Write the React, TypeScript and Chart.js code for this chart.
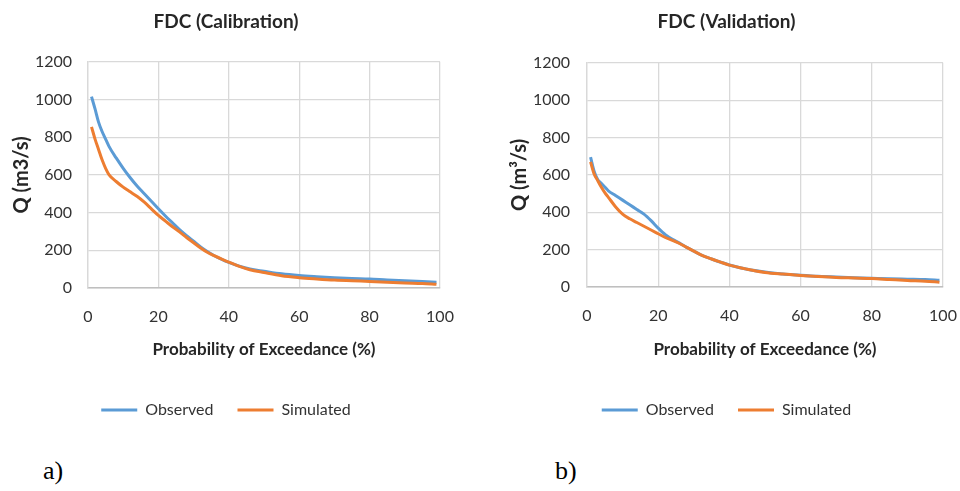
import React, { useEffect, useRef } from "react";
import { Chart, registerables } from "chart.js";

Chart.register(...registerables);

// ---- Data ----
const calProbability = [1, 2, 3, 4, 5, 6, 8, 10, 12, 14, 16, 18, 20, 22, 24, 26, 28, 30, 32, 34, 36, 38, 40, 43, 46, 50, 55, 60, 65, 70, 75, 80, 85, 90, 95, 99];
const calObserved = [1015, 950, 880, 830, 790, 750, 690, 635, 585, 540, 500, 460, 420, 382, 346, 310, 278, 248, 218, 192, 170, 152, 136, 116, 101, 89, 75, 66, 60, 55, 51, 48, 43, 39, 35, 31];
const calSimulated = [855, 790, 735, 680, 635, 600, 565, 535, 510, 485, 455, 420, 385, 355, 325, 298, 268, 240, 212, 188, 170, 153, 137, 115, 97, 82, 65, 55, 48, 42, 38, 35, 31, 27, 24, 20];

const valProbability = [1, 2, 3, 4, 5, 6, 8, 10, 12, 14, 16, 18, 20, 22, 24, 26, 28, 30, 32, 35, 38, 40, 45, 50, 55, 60, 65, 70, 75, 80, 85, 90, 95, 99];
const valObserved = [695, 620, 575, 555, 535, 515, 490, 465, 440, 415, 390, 355, 315, 280, 255, 235, 212, 192, 172, 150, 130, 118, 95, 80, 70, 63, 57, 53, 50, 47, 44, 42, 40, 36];
const valSimulated = [670, 605, 570, 535, 505, 480, 430, 390, 365, 345, 325, 305, 285, 265, 250, 233, 212, 192, 172, 150, 130, 117, 95, 78, 69, 62, 56, 51, 48, 45, 40, 35, 31, 26];

const seriesNames = ["Observed", "Simulated"];
const seriesColors = ["#5B9BD5", "#ED7D31"];
const xAxisTitle = "Probability of Exceedance (%)";
const xMin = 0, xMax = 100, xStep = 20;
const yMin = 0, yMax = 1200, yStep = 200;

const FONT = "Lato";
const TEXT = "#262626";
const TICK = "#333333";

type ChartProps = {
  left: number;
  width: number;
  height: number;
  title: string;
  yTitle: string;
  prob: number[];
  obs: number[];
  sim: number[];
  padLeft: number;
  padRight: number;
  yAxisWidth: number;
  xAxisHeight: number;
  yTickPad: number;
  titleTop: number;
  titleBottom: number;
};

function FdcChart(p: ChartProps) {
  const ref = useRef<HTMLCanvasElement | null>(null);
  useEffect(() => {
    let chart: Chart | null = null;
    let cancelled = false;
    const make = () => {
      if (cancelled || !ref.current) return;
      const toPts = (vals: number[]) => p.prob.map((x, i) => ({ x, y: vals[i] }));
      chart = new Chart(ref.current, {
        type: "line",
        data: {
          datasets: [
            {
              label: seriesNames[0],
              data: toPts(p.obs),
              borderColor: seriesColors[0],
              backgroundColor: seriesColors[0],
              borderWidth: 3,
              pointRadius: 0,
              cubicInterpolationMode: "monotone",
              order: 1,
            },
            {
              label: seriesNames[1],
              data: toPts(p.sim),
              borderColor: seriesColors[1],
              backgroundColor: seriesColors[1],
              borderWidth: 3,
              pointRadius: 0,
              cubicInterpolationMode: "monotone",
              order: 0,
            },
          ],
        },
        options: {
          animation: false,
          responsive: false,
          devicePixelRatio: 1,
          layout: { padding: { left: p.padLeft, right: p.padRight, top: 0, bottom: 0 } },
          plugins: {
            title: {
              display: true,
              text: p.title,
              color: TEXT,
              font: { family: FONT, size: 19, weight: "bold" },
              padding: { top: p.titleTop, bottom: p.titleBottom },
            },
            legend: {
              position: "bottom",
              labels: {
                usePointStyle: true,
                pointStyle: "line",
                pointStyleWidth: 36,
                padding: 24,
                color: TICK,
                font: { family: FONT, size: 16 },
                sort: (a: any, b: any) => a.datasetIndex - b.datasetIndex,
              },
            },
            tooltip: { enabled: false },
          },
          scales: {
            x: {
              type: "linear",
              min: xMin,
              max: xMax,
              ticks: {
                stepSize: xStep,
                padding: 19,
                color: TICK,
                font: { family: FONT, size: 16 },
                callback: (v: any) => String(v),
              },
              grid: { color: "#D9D9D9", lineWidth: 1.3, drawTicks: false },
              border: { color: "#BFBFBF", width: 1.5 },
              title: {
                display: true,
                text: xAxisTitle,
                color: TEXT,
                font: { family: FONT, size: 17, weight: "bold" },
                padding: { top: 0, bottom: 18 },
              },
              afterFit: (s: any) => {
                s.height = p.xAxisHeight;
                s.paddingLeft = 0;
                s.paddingRight = 0;
              },
            },
            y: {
              type: "linear",
              min: yMin,
              max: yMax,
              ticks: {
                stepSize: yStep,
                padding: p.yTickPad,
                color: TICK,
                font: { family: FONT, size: 16 },
                callback: (v: any) => String(v),
              },
              grid: { color: "#D9D9D9", lineWidth: 1.3, drawTicks: false },
              border: { color: "#D9D9D9", width: 1.3 },
              title: {
                display: true,
                text: p.yTitle,
                color: TEXT,
                font: { family: FONT, size: 20, weight: "bold", lineHeight: 1 },
                padding: { top: 0, bottom: 0 },
              },
              afterFit: (s: any) => {
                s.width = p.yAxisWidth;
              },
            },
          },
        },
      } as any);
    };
    const fontsReady = (document as any).fonts
      ? Promise.all([
          (document as any).fonts.load(`16px ${FONT}`),
          (document as any).fonts.load(`bold 16px ${FONT}`),
        ]).catch(() => null)
      : Promise.resolve(null);
    fontsReady.then(make);
    return () => {
      cancelled = true;
      if (chart) chart.destroy();
    };
  }, []);
  return (
    <canvas
      ref={ref}
      width={p.width}
      height={p.height}
      style={{ position: "absolute", left: p.left, top: 0, width: p.width, height: p.height }}
    />
  );
}

export default function App() {
  const labelStyle: React.CSSProperties = {
    position: "absolute",
    top: 456,
    fontFamily: "'Liberation Serif', 'Times New Roman', serif",
    fontSize: 26,
    color: "#000",
    lineHeight: "30px",
  };
  return (
    <div style={{ position: "absolute", left: 0, top: 0, width: 960, height: 491, background: "#fff", overflow: "hidden" }}>
      <FdcChart
        left={0}
        width={456}
        height={428}
        title="FDC (Calibration)"
        yTitle="Q (m3/s)"
        prob={calProbability}
        obs={calObserved}
        sim={calSimulated}
        padLeft={12}
        padRight={16}
        yAxisWidth={76}
        xAxisHeight={90}
        yTickPad={16}
        titleTop={10}
        titleBottom={29}
      />
      <FdcChart
        left={498}
        width={459}
        height={428}
        title="FDC (Validation)"
        yTitle="Q (m³/s)"
        prob={valProbability}
        obs={valObserved}
        sim={valSimulated}
        padLeft={12}
        padRight={14}
        yAxisWidth={77}
        xAxisHeight={91}
        yTickPad={17}
        titleTop={10}
        titleBottom={30}
      />
      <div style={{ ...labelStyle, left: 43 }}>a)</div>
      <div style={{ ...labelStyle, left: 555 }}>b)</div>
    </div>
  );
}
